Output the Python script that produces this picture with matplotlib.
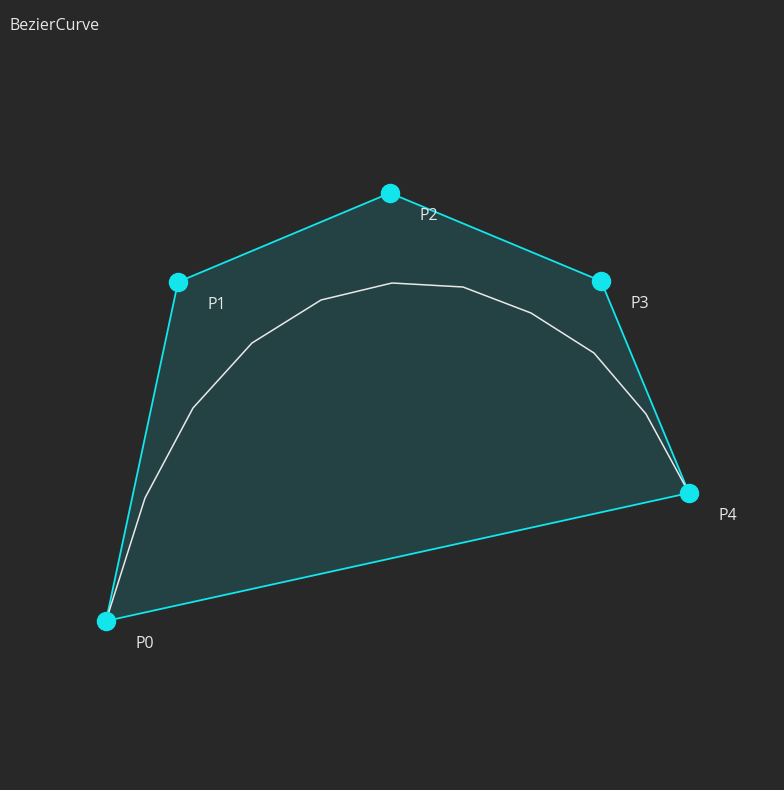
import matplotlib.pyplot as plt

# control points (pixel coordinates)
ctrl_x = [106, 178, 390, 601, 689]
ctrl_y = [621, 282, 193, 281, 493]
labels = ["P0", "P1", "P2", "P3", "P4"]

# sampled curve vertices
curve_x = [106, 145, 193, 252, 321, 392, 463, 531, 594, 646, 689]
curve_y = [621, 498, 408, 343, 300, 283, 287, 313, 353, 414, 493]

bg = "#282828"
cyan = "#12e6ec"

fig = plt.figure(figsize=(7.84, 7.90), dpi=100, facecolor=bg)
ax = fig.add_axes([0, 0, 1, 1])
ax.set_facecolor(bg)
ax.set_xlim(0, 784)
ax.set_ylim(790, 0)
ax.axis("off")

ax.fill(ctrl_x, ctrl_y, color=cyan, alpha=0.14, lw=0)
ax.plot(ctrl_x + ctrl_x[:1], ctrl_y + ctrl_y[:1], color=cyan, lw=1.3)
ax.plot(curve_x, curve_y, color="#e8e8e8", lw=1.1)
ax.plot(ctrl_x, ctrl_y, "o", color=cyan, ms=13, lw=0)

for x, y, s in zip(ctrl_x, ctrl_y, labels):
    ax.text(x + 30, y + 23, s, color="#e6e6e6", fontsize=11.5,
            ha="left", va="center", family="Open Sans")

ax.text(10, 26, "BezierCurve", color="#e6e6e6", fontsize=11.5,
        ha="left", va="center", family="Open Sans")

fig.savefig("out.png", dpi=100, facecolor=bg)
